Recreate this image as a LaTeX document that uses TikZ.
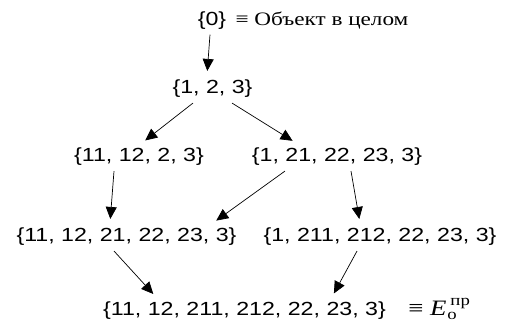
\documentclass[tikz,border=0pt]{standalone}
\usepackage{amsmath}
\usepackage{fontspec}
\setmainfont[FakeStretch=1.22]{Liberation Serif}
\newfontfamily\setfont[FakeStretch=1.22]{Liberation Sans}
\usetikzlibrary{arrows.meta,positioning}

\begin{document}
\begin{tikzpicture}[x=1pt, y=-1pt,
  setnode/.style={font=\setfont\fontsize{19}{23}\selectfont, inner xsep=2pt, inner ysep=5pt},
  note/.style={font=\fontsize{19}{23}\selectfont, inner sep=0pt, anchor=base west},
  link/.style={-{Triangle[length=12pt,width=11pt]}, line width=0.7pt, shorten >=4pt}]
  \useasboundingbox (0,0) rectangle (506,334);
  % levels of the decomposition
  \node[setnode] (n0) at (212,20.5) {\{0\}};
  \node[note] (obj) at ([xshift=7pt]n0.base east) {≡ Объект в целом};
  \node[setnode] (n1) at (212.5,89) {\{1, 2, 3\}};
  \node[setnode] (n21) at (139,157) {\{11, 12, 2, 3\}};
  \node[setnode] (n22) at (337,157) {\{1, 21, 22, 23, 3\}};
  \node[setnode] (n31) at (126.5,237) {\{11, 12, 21, 22, 23, 3\}};
  \node[setnode] (n32) at (380,237) {\{1, 211, 212, 22, 23, 3\}};
  \node[setnode] (n4) at (244.5,311) {\{11, 12, 211, 212, 22, 23, 3\}};
  \node[note, font=\fontsize{22}{26}\selectfont] (eo) at ([xshift=20pt]n4.base east) {≡ \textit{E}\kern1pt$_{\text{о}}^{\kern3pt\text{пр}}$};
  % links
  \draw[link] ([xshift=-2pt]n0.south) -- ([xshift=-5.5pt]n1.north);
  \draw[link] ([xshift=-19.5pt]n1.south) -- ([xshift=3pt]n21.north);
  \draw[link] ([xshift=19.5pt]n1.south) -- ([xshift=-41pt]n22.north);
  \draw[link] ([xshift=-25pt]n21.south) -- ([xshift=-16.5pt]n31.north);
  \draw[link] ([xshift=-52pt]n22.south) -- ([xshift=86.5pt]n31.north);
  \draw[link] ([xshift=14pt]n22.south) -- ([xshift=-20pt]n32.north);
  \draw[link] ([xshift=-12.5pt]n31.south) -- ([xshift=-88.5pt]n4.north);
  \draw[link] ([xshift=-23pt]n32.south) -- ([xshift=87.5pt]n4.north);
\end{tikzpicture}
\end{document}
